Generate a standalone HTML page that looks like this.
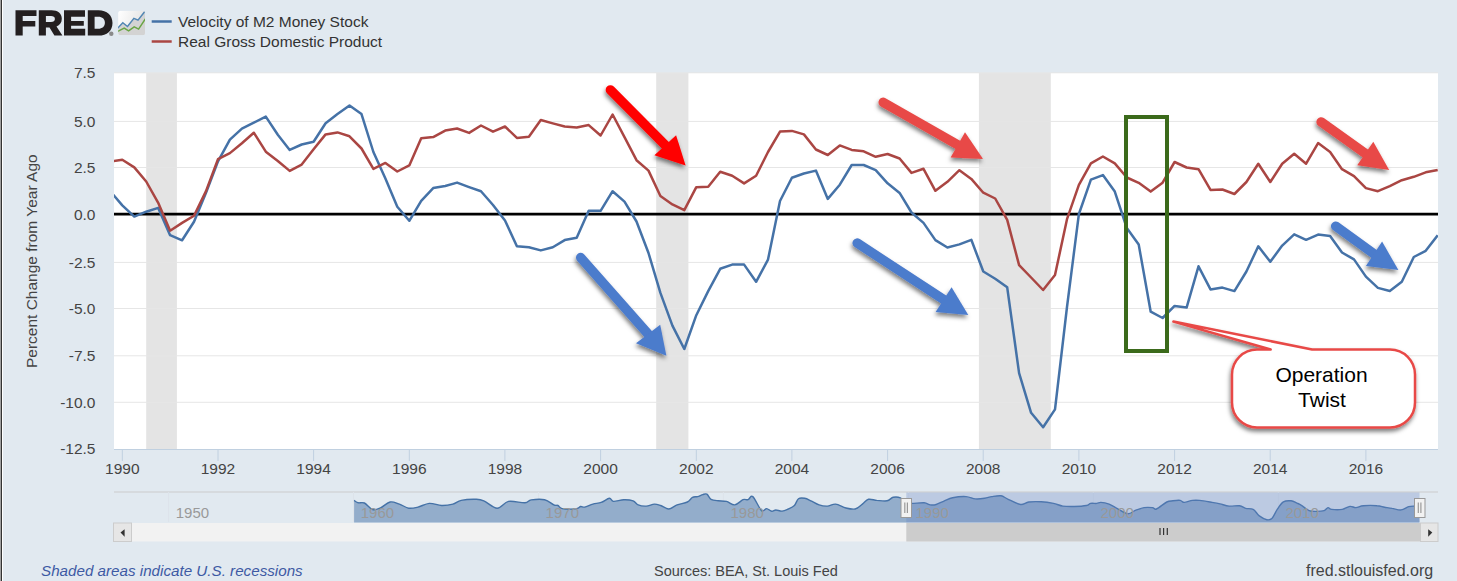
<!DOCTYPE html>
<html><head><meta charset="utf-8"><style>
html,body{margin:0;padding:0;background:#e1e9f0;}
body{width:1457px;height:581px;overflow:hidden;position:relative;}
svg{position:absolute;left:0;top:0;}
text{font-family:"Liberation Sans",sans-serif;}
</style></head><body>
<svg width="1457" height="581" viewBox="0 0 1457 581">
<defs>
<filter id="sh" x="-20%" y="-20%" width="150%" height="150%"><feDropShadow dx="-0.8" dy="3" stdDeviation="2" flood-color="#000" flood-opacity="0.5"/></filter>
<clipPath id="plot"><rect x="114" y="73" width="1324" height="376"/></clipPath>
<linearGradient id="ig" x1="0" y1="0" x2="1" y2="0.3"><stop offset="0" stop-color="#ffffff"/><stop offset="1" stop-color="#e4e4e4"/></linearGradient>
</defs>
<rect x="0" y="0" width="1457" height="581" fill="#e1e9f0"/>
<rect x="0" y="0" width="1" height="581" fill="#a0a0a0"/>
<rect x="1" y="0" width="1" height="581" fill="#333"/>
<rect x="2" y="0" width="1" height="581" fill="#fff"/>
<!-- logo -->
<g fill="#231f20">
<path d="M15.5 10.3H36.5V16.1H22.7V21H35.3V26.4H22.7V35.5H15.5Z"/>
<path d="M38.8 10.3H51.5C58 10.3 61.8 13.4 61.8 18.8C61.8 22.6 59.8 25.3 56.5 26.5L62.4 35.5H54.4L49.5 27.4H45.9V35.5H38.8ZM45.9 16.1V22.0H51C53.4 22.0 54.9 21 54.9 19.0C54.9 17 53.4 16.1 51 16.1Z"/>
<path d="M64 10.3H85V16.7H71.1V21H83.8V25.7H71.1V28.8H85.2V35.6H64Z"/>
<path d="M87.8 10.3H98.5C107 10.3 112.5 15.3 112.5 22.9C112.5 30.6 107 35.6 98.5 35.6H87.8ZM94.6 16.7V28.8H98.3C102.3 28.8 104.9 26.6 104.9 22.8C104.9 18.9 102.3 16.7 98.3 16.7Z"/>
</g>
<circle cx="111.3" cy="33.7" r="2.2" fill="#8a8a8a"/>
<clipPath id="ic"><rect x="118.1" y="10.7" width="26.9" height="24.6" rx="2.5"/></clipPath>
<g clip-path="url(#ic)">
<rect x="118.1" y="10.7" width="26.9" height="24.6" fill="url(#ig)"/>
<polygon points="118.1,27.7 122.8,22.7 127.5,26.5 133.9,18.3 138,20.1 145,11.2 145,35.3 118.1,35.3" fill="#d3d3d3"/>
<polyline points="117.5,28.3 122.8,22.7 127.5,26.5 133.9,18.3 138,20.1 145.2,11" fill="none" stroke="#5186b3" stroke-width="1.5"/>
<polyline points="117.5,31.5 124.2,28.2 128.6,30.9 134.2,26.8 138.6,29.1 145.3,18.8" fill="none" stroke="#6aa545" stroke-width="1.5"/>
</g>
<!-- legend -->
<line x1="151.7" y1="21.5" x2="171.7" y2="21.5" stroke="#4572a7" stroke-width="2.5"/>
<line x1="151.7" y1="41.5" x2="171.7" y2="41.5" stroke="#aa4643" stroke-width="2.5"/>
<g font-size="15.5" fill="#333">
<text x="178" y="27.3">Velocity of M2 Money Stock</text>
<text x="178" y="47">Real Gross Domestic Product</text>
</g>
<!-- plot -->
<rect x="114" y="73" width="1324" height="376" fill="#fff"/>
<rect x="146.2" y="73" width="30.7" height="376" fill="#e4e4e4"/>
<rect x="656.2" y="73" width="32.2" height="376" fill="#e4e4e4"/>
<rect x="978.9" y="73" width="71.9" height="376" fill="#e4e4e4"/>
<line x1="114" y1="72.8" x2="1438" y2="72.8" stroke="#e6e6e6" stroke-width="1"/><line x1="114" y1="121.4" x2="1438" y2="121.4" stroke="#e6e6e6" stroke-width="1"/><line x1="114" y1="167.5" x2="1438" y2="167.5" stroke="#e6e6e6" stroke-width="1"/><line x1="114" y1="262.4" x2="1438" y2="262.4" stroke="#e6e6e6" stroke-width="1"/><line x1="114" y1="308.5" x2="1438" y2="308.5" stroke="#e6e6e6" stroke-width="1"/><line x1="114" y1="355.8" x2="1438" y2="355.8" stroke="#e6e6e6" stroke-width="1"/><line x1="114" y1="402.3" x2="1438" y2="402.3" stroke="#e6e6e6" stroke-width="1"/>
<line x1="114" y1="449.5" x2="1438" y2="449.5" stroke="#c0d0e0" stroke-width="1"/>
<line x1="122.3" y1="449" x2="122.3" y2="461" stroke="#c0d0e0" stroke-width="1"/><line x1="218.0" y1="449" x2="218.0" y2="461" stroke="#c0d0e0" stroke-width="1"/><line x1="313.6" y1="449" x2="313.6" y2="461" stroke="#c0d0e0" stroke-width="1"/><line x1="409.3" y1="449" x2="409.3" y2="461" stroke="#c0d0e0" stroke-width="1"/><line x1="504.9" y1="449" x2="504.9" y2="461" stroke="#c0d0e0" stroke-width="1"/><line x1="600.6" y1="449" x2="600.6" y2="461" stroke="#c0d0e0" stroke-width="1"/><line x1="696.3" y1="449" x2="696.3" y2="461" stroke="#c0d0e0" stroke-width="1"/><line x1="791.9" y1="449" x2="791.9" y2="461" stroke="#c0d0e0" stroke-width="1"/><line x1="887.6" y1="449" x2="887.6" y2="461" stroke="#c0d0e0" stroke-width="1"/><line x1="983.2" y1="449" x2="983.2" y2="461" stroke="#c0d0e0" stroke-width="1"/><line x1="1078.9" y1="449" x2="1078.9" y2="461" stroke="#c0d0e0" stroke-width="1"/><line x1="1174.6" y1="449" x2="1174.6" y2="461" stroke="#c0d0e0" stroke-width="1"/><line x1="1270.2" y1="449" x2="1270.2" y2="461" stroke="#c0d0e0" stroke-width="1"/><line x1="1365.9" y1="449" x2="1365.9" y2="461" stroke="#c0d0e0" stroke-width="1"/>
<g clip-path="url(#plot)">
<line x1="114" y1="214.2" x2="1438" y2="214.2" stroke="#000" stroke-width="2.7"/>
<polyline points="110.3,191.2 122.3,205.4 134.3,216.6 146.2,211.7 158.2,207.9 170.1,235.2 182.1,240.3 194.0,221.8 206.0,192.7 218.0,161.4 229.9,139.7 241.9,128.6 253.8,122.7 265.8,116.6 277.8,134.8 289.7,149.9 301.7,144.5 313.6,141.7 325.6,123.3 337.5,114.1 349.5,105.5 361.5,114.1 373.4,152.0 385.4,178.4 397.3,206.7 409.3,220.8 421.2,200.8 433.2,188.1 445.2,186.0 457.1,182.6 469.1,187.1 481.0,191.3 493.0,205.0 505.0,220.5 516.9,246.3 528.9,247.3 540.8,250.4 552.8,247.3 564.7,240.1 576.7,237.7 588.7,210.8 600.6,210.8 612.6,191.2 624.5,201.6 636.5,221.5 648.5,253.0 660.4,292.9 672.4,325.6 684.3,349.0 696.3,315.2 708.2,291.1 720.2,268.8 732.2,264.6 744.1,264.6 756.1,281.8 768.0,259.6 780.0,201.0 791.9,177.8 803.9,173.5 815.9,170.6 827.8,198.9 839.8,184.7 851.7,165.0 863.7,165.0 875.7,170.2 887.6,183.3 899.6,192.9 911.5,212.5 923.5,222.9 935.4,240.1 947.4,247.5 959.4,244.4 971.3,239.8 983.3,271.5 995.2,278.7 1007.2,287.3 1019.1,373.1 1031.1,412.8 1043.1,427.3 1055.0,409.4 1067.0,307.0 1078.9,214.0 1090.9,179.6 1102.9,175.1 1114.8,191.6 1126.8,228.0 1138.7,244.5 1150.7,311.7 1162.6,318.0 1174.6,305.9 1186.6,307.6 1198.5,266.3 1210.5,289.4 1222.4,287.6 1234.4,291.1 1246.4,271.5 1258.3,246.3 1270.3,261.8 1282.2,245.6 1294.2,234.3 1306.1,239.8 1318.1,234.6 1330.1,236.0 1342.0,252.5 1354.0,259.4 1365.9,276.6 1377.9,287.9 1389.8,291.0 1401.8,281.7 1413.8,257.0 1425.7,250.8 1437.7,235.3" fill="none" stroke="#4572a7" stroke-width="2.5" stroke-linejoin="round"/>
<polyline points="110.3,161.4 122.3,159.8 134.3,167.4 146.2,181.5 158.2,202.8 170.1,230.7 182.1,222.9 194.0,215.7 206.0,191.1 218.0,159.1 229.9,153.1 241.9,143.2 253.8,132.7 265.8,151.7 277.8,161.0 289.7,170.9 301.7,164.6 313.6,149.3 325.6,134.4 337.5,132.4 349.5,136.3 361.5,148.5 373.4,168.9 385.4,162.9 397.3,171.5 409.3,165.4 421.2,138.2 433.2,137.1 445.2,130.6 457.1,128.5 469.1,132.9 481.0,125.5 493.0,131.7 505.0,126.5 516.9,137.9 528.9,136.8 540.8,120.0 552.8,123.4 564.7,126.5 576.7,127.5 588.7,125.1 600.6,135.5 612.6,114.5 624.5,137.2 636.5,160.2 648.5,170.6 660.4,196.0 672.4,204.4 684.3,210.2 696.3,187.2 708.2,186.8 720.2,171.7 732.2,175.8 744.1,183.4 756.1,175.8 768.0,152.0 780.0,131.6 791.9,130.9 803.9,134.4 815.9,149.5 827.8,155.0 839.8,145.4 851.7,149.9 863.7,151.3 875.7,156.8 887.6,154.0 899.6,158.5 911.5,172.9 923.5,168.8 935.4,190.8 947.4,181.8 959.4,170.2 971.3,178.9 983.3,192.7 995.2,198.5 1007.2,219.9 1019.1,265.1 1031.1,277.5 1043.1,290.0 1055.0,275.0 1067.0,219.2 1078.9,184.8 1090.9,163.4 1102.9,156.5 1114.8,163.4 1126.8,177.5 1138.7,182.8 1150.7,191.6 1162.6,182.7 1174.6,162.0 1186.6,167.5 1198.5,169.2 1210.5,189.9 1222.4,189.5 1234.4,194.0 1246.4,182.0 1258.3,163.7 1270.3,182.0 1282.2,163.7 1294.2,153.7 1306.1,163.7 1318.1,143.1 1330.1,152.0 1342.0,169.2 1354.0,176.1 1365.9,188.1 1377.9,191.2 1389.8,186.1 1401.8,180.2 1413.8,176.8 1425.7,172.3 1437.7,169.9" fill="none" stroke="#aa4643" stroke-width="2.5" stroke-linejoin="round"/>
</g>
<g font-size="15.5" fill="#444"><text x="95.5" y="78.3" text-anchor="end">7.5</text><text x="95.5" y="126.7" text-anchor="end">5.0</text><text x="95.5" y="172.8" text-anchor="end">2.5</text><text x="95.5" y="219.8" text-anchor="end">0.0</text><text x="95.5" y="267.7" text-anchor="end">-2.5</text><text x="95.5" y="313.8" text-anchor="end">-5.0</text><text x="95.5" y="361.1" text-anchor="end">-7.5</text><text x="95.5" y="407.6" text-anchor="end">-10.0</text><text x="95.5" y="454.3" text-anchor="end">-12.5</text></g>
<g font-size="15.5" fill="#444"><text x="122.3" y="473.5" text-anchor="middle">1990</text><text x="218.0" y="473.5" text-anchor="middle">1992</text><text x="313.6" y="473.5" text-anchor="middle">1994</text><text x="409.3" y="473.5" text-anchor="middle">1996</text><text x="504.9" y="473.5" text-anchor="middle">1998</text><text x="600.6" y="473.5" text-anchor="middle">2000</text><text x="696.3" y="473.5" text-anchor="middle">2002</text><text x="791.9" y="473.5" text-anchor="middle">2004</text><text x="887.6" y="473.5" text-anchor="middle">2006</text><text x="983.2" y="473.5" text-anchor="middle">2008</text><text x="1078.9" y="473.5" text-anchor="middle">2010</text><text x="1174.6" y="473.5" text-anchor="middle">2012</text><text x="1270.2" y="473.5" text-anchor="middle">2014</text><text x="1365.9" y="473.5" text-anchor="middle">2016</text></g>
<text transform="translate(37,261.2) rotate(-90)" text-anchor="middle" font-size="15.5" fill="#444">Percent Change from Year Ago</text>
<!-- annotations -->
<g filter="url(#sh)"><line x1="610.4" y1="89.9" x2="665.2" y2="145.2" stroke="#ff0000" stroke-width="9.5" stroke-linecap="round"/><polygon points="654.4,155.2 685.6,165.6 676.1,135.3" fill="#ff0000"/></g><g filter="url(#sh)"><line x1="883.2" y1="102.3" x2="957.8" y2="144.8" stroke="#e84a47" stroke-width="9.5" stroke-linecap="round"/><polygon points="950.6,157.5 983.1,159 965,132.2" fill="#e84a47"/></g><g filter="url(#sh)"><line x1="1321.1" y1="121.9" x2="1365.2" y2="153.4" stroke="#e84a47" stroke-width="9.5" stroke-linecap="round"/><polygon points="1357.2,165.2 1389.2,170.1 1373.3,141.7" fill="#e84a47"/></g><g filter="url(#sh)"><line x1="580.7" y1="257.6" x2="648.1" y2="334.0" stroke="#4c7bcc" stroke-width="9.5" stroke-linecap="round"/><polygon points="636,343.3 666.4,355.7 660.2,324.7" fill="#4c7bcc"/></g><g filter="url(#sh)"><line x1="857.2" y1="243.1" x2="943.6" y2="299.6" stroke="#4c7bcc" stroke-width="9.5" stroke-linecap="round"/><polygon points="935.6,312 968.3,314.9 951.6,287.3" fill="#4c7bcc"/></g><g filter="url(#sh)"><line x1="1335.7" y1="226.2" x2="1374.0" y2="253.8" stroke="#4c7bcc" stroke-width="9.5" stroke-linecap="round"/><polygon points="1365.9,265.9 1398.4,270.1 1382.1,241.6" fill="#4c7bcc"/></g>
<rect x="1126" y="117" width="41" height="234" fill="none" stroke="#3b6a1b" stroke-width="4"/>
<g filter="url(#sh)">
<path d="M1257 349.5H1270.7L1173.4 321.6L1312.1 349.5H1390A25 25 0 0 1 1415 374.5V402.5A25 25 0 0 1 1390 427.5H1257A25 25 0 0 1 1232 402.5V374.5A25 25 0 0 1 1257 349.5Z" fill="#fff" stroke="#e84a47" stroke-width="2.5" stroke-linejoin="round"/>
</g>
<g font-size="21" fill="#000" text-anchor="middle">
<text x="1321.5" y="382">Operation</text>
<text x="1322" y="406.6">Twist</text>
</g>
<!-- navigator -->
<line x1="114" y1="492" x2="1438" y2="492" stroke="#cccccc" stroke-width="1.2"/>
<line x1="168.6" y1="492" x2="168.6" y2="522" stroke="#dde3ea" stroke-width="1"/><line x1="353.5" y1="492" x2="353.5" y2="522" stroke="#dde3ea" stroke-width="1"/><line x1="538.5" y1="492" x2="538.5" y2="522" stroke="#dde3ea" stroke-width="1"/><line x1="723.4" y1="492" x2="723.4" y2="522" stroke="#dde3ea" stroke-width="1"/><line x1="908.4" y1="492" x2="908.4" y2="522" stroke="#dde3ea" stroke-width="1"/><line x1="1093.3" y1="492" x2="1093.3" y2="522" stroke="#dde3ea" stroke-width="1"/><line x1="1278.3" y1="492" x2="1278.3" y2="522" stroke="#dde3ea" stroke-width="1"/>
<path d="M354.1,500.4 C354.8,500.8 356.5,502.4 358.2,502.8 C359.9,503.2 362.0,501.9 364.4,503.0 C366.8,504.1 369.9,508.8 372.6,509.6 C375.4,510.4 378.0,508.9 380.9,507.6 C383.8,506.3 387.0,502.6 390.1,502.0 C393.2,501.4 396.3,503.1 399.4,504.1 C402.5,505.1 405.6,507.7 408.7,508.2 C411.8,508.7 414.6,507.9 418.0,507.1 C421.4,506.3 425.4,503.7 429.3,503.4 C433.2,503.1 437.7,505.4 441.6,505.5 C445.5,505.6 449.6,505.0 452.9,504.1 C456.2,503.2 457.4,501.2 461.2,500.4 C465.0,499.6 471.8,499.2 475.6,499.3 C479.4,499.4 480.2,499.3 483.8,500.8 C487.4,502.3 493.1,508.1 497.2,508.2 C501.3,508.3 503.9,502.3 508.5,501.4 C513.1,500.5 521.2,503.1 525.0,502.8 C528.8,502.6 527.9,500.4 531.2,499.9 C534.5,499.4 540.8,498.9 544.6,499.7 C548.4,500.5 551.6,503.9 553.8,504.9 C556.0,505.9 556.6,504.9 558.0,505.5 C559.4,506.1 559.0,508.1 562.1,508.6 C565.2,509.1 573.4,509.0 576.5,508.6 C579.6,508.2 579.2,506.8 580.6,506.5 C582.0,506.2 582.7,507.5 584.7,507.1 C586.8,506.7 590.1,504.9 592.9,504.1 C595.6,503.3 598.5,503.4 601.2,502.4 C604.0,501.4 607.4,498.5 609.4,498.3 C611.4,498.1 611.1,501.2 613.5,501.4 C615.9,501.6 620.5,499.8 623.8,499.7 C627.1,499.6 630.7,499.9 633.1,500.8 C635.5,501.7 636.0,504.0 638.2,504.9 C640.4,505.8 643.5,506.2 646.2,506.1 C648.9,506.0 652.0,504.2 654.4,504.1 C656.8,504.0 658.2,504.7 660.6,505.5 C663.0,506.3 666.0,509.1 668.8,509.0 C671.5,508.9 674.0,506.1 677.1,504.9 C680.2,503.7 684.8,503.3 687.4,502.0 C690.0,500.7 690.8,498.2 692.5,497.3 C694.2,496.4 695.9,497.1 697.6,496.6 C699.3,496.2 701.2,495.0 702.8,494.6 C704.3,494.2 705.5,493.4 706.9,494.2 C708.3,495.0 709.1,498.2 711.0,499.3 C712.9,500.4 715.6,500.5 718.2,500.8 C720.8,501.1 723.8,500.7 726.5,501.4 C729.2,502.1 732.0,505.2 734.7,504.9 C737.5,504.6 740.8,500.6 743.0,499.7 C745.2,498.8 746.5,500.2 748.1,499.7 C749.7,499.2 750.6,494.8 752.8,496.6 C755.0,498.4 759.2,508.6 761.5,510.6 C763.8,512.6 764.9,508.5 766.6,508.6 C768.3,508.7 770.2,511.1 771.8,511.3 C773.3,511.5 774.2,510.0 775.9,510.0 C777.6,510.0 780.0,511.3 782.1,511.1 C784.2,510.9 786.2,509.9 788.2,509.0 C790.2,508.1 792.7,507.2 794.4,505.5 C796.1,503.8 796.8,499.9 798.5,498.7 C800.2,497.5 802.6,497.9 804.7,498.3 C806.8,498.7 808.5,499.7 810.9,500.8 C813.3,501.9 816.4,504.0 819.1,504.9 C821.9,505.8 824.6,506.2 827.4,506.1 C830.1,506.0 832.5,503.8 835.6,504.1 C838.7,504.4 842.6,507.2 845.9,508.0 C849.2,508.8 852.5,509.6 855.2,509.0 C858.0,508.4 860.2,505.7 862.4,504.1 C864.6,502.5 866.1,499.9 868.5,499.3 C870.9,498.7 873.7,500.1 876.8,500.4 C879.9,500.6 884.4,501.3 887.1,500.8 C889.8,500.3 891.0,497.8 893.2,497.3 C895.4,496.8 898.3,497.0 900.4,497.9 C902.5,498.8 903.7,501.9 905.6,502.8 C907.5,503.7 908.7,503.4 911.8,503.4 C914.9,503.4 921.0,502.6 924.1,502.8 C927.2,503.1 928.3,504.6 930.3,504.9 C932.3,505.2 933.9,505.2 936.2,504.5 C938.6,503.8 941.7,501.9 944.4,500.8 C947.1,499.7 949.0,498.4 952.6,497.7 C956.2,497.0 962.2,496.4 966.0,496.6 C969.8,496.8 972.2,498.6 975.3,498.9 C978.4,499.2 981.9,498.7 984.6,498.3 C987.4,497.9 989.1,497.0 991.8,496.6 C994.5,496.2 998.3,495.4 1001.0,495.8 C1003.7,496.2 1004.9,497.9 1008.2,499.3 C1011.5,500.8 1017.2,504.1 1020.6,504.5 C1024.0,504.9 1025.4,502.4 1028.8,502.0 C1032.2,501.6 1037.1,501.6 1041.2,501.8 C1045.3,502.0 1049.9,502.7 1053.5,503.4 C1057.1,504.1 1059.4,505.6 1062.8,506.1 C1066.2,506.6 1070.1,506.6 1074.1,506.5 C1078.0,506.4 1083.8,506.0 1086.5,505.5 C1089.2,505.0 1088.9,503.8 1090.6,503.4 C1092.3,503.0 1095.1,503.6 1096.8,503.4 C1098.5,503.2 1098.9,502.3 1100.9,502.4 C1103.0,502.5 1106.3,503.1 1109.1,504.1 C1111.8,505.1 1114.3,507.0 1117.4,508.6 C1120.5,510.2 1124.6,513.4 1127.7,513.7 C1130.8,514.0 1133.2,511.2 1135.9,510.2 C1138.6,509.2 1141.3,508.0 1144.1,507.6 C1146.8,507.2 1150.3,507.4 1152.4,507.6 C1154.5,507.8 1154.1,509.9 1156.5,509.0 C1158.9,508.1 1164.0,503.4 1166.8,502.0 C1169.5,500.6 1170.8,501.1 1173.0,500.8 C1175.2,500.5 1178.3,500.1 1180.2,500.4 C1182.1,500.7 1182.2,502.4 1184.3,502.4 C1186.3,502.4 1189.9,500.7 1192.5,500.4 C1195.1,500.1 1196.4,500.1 1199.7,500.4 C1203.0,500.7 1208.7,501.8 1212.1,502.4 C1215.5,503.0 1217.2,503.3 1220.0,503.9 C1222.8,504.5 1225.8,505.8 1229.1,506.1 C1232.4,506.4 1236.8,505.4 1239.6,505.8 C1242.4,506.2 1243.4,507.8 1245.7,508.4 C1248.0,509.0 1250.9,508.1 1253.2,509.4 C1255.5,510.6 1257.0,514.2 1259.3,515.9 C1261.6,517.6 1264.7,519.3 1266.8,519.7 C1268.9,520.1 1270.3,520.0 1272.1,518.2 C1273.9,516.4 1275.5,511.8 1277.4,509.1 C1279.3,506.4 1281.1,503.3 1283.4,501.9 C1285.7,500.5 1288.7,500.6 1291.0,500.8 C1293.3,501.0 1295.2,502.3 1297.0,503.1 C1298.8,503.9 1299.5,504.1 1301.5,505.4 C1303.5,506.6 1306.6,509.6 1309.1,510.6 C1311.6,511.6 1314.1,511.4 1316.6,511.4 C1319.1,511.4 1322.3,511.2 1324.2,510.6 C1326.1,510.0 1326.8,507.8 1328.0,507.6 C1329.2,507.4 1329.3,509.1 1331.7,509.4 C1334.1,509.7 1339.3,509.9 1342.3,509.4 C1345.3,508.9 1347.6,506.7 1349.9,506.4 C1352.2,506.1 1353.7,507.7 1355.9,507.6 C1358.2,507.5 1359.9,506.0 1363.4,505.7 C1366.9,505.4 1373.5,505.4 1377.0,505.7 C1380.5,505.9 1382.1,506.8 1384.6,507.2 C1387.1,507.6 1389.3,507.9 1392.1,508.4 C1394.9,508.8 1398.4,510.2 1401.2,509.9 C1404.0,509.6 1406.4,507.2 1408.7,506.6 C1411.0,506.0 1413.0,506.2 1414.8,506.1 C1416.6,506.0 1418.7,506.1 1419.5,506.1 L1419.5,522.5 L354.1,522.5 Z" fill="#93adcb"/>
<path d="M354.1,500.4 C354.8,500.8 356.5,502.4 358.2,502.8 C359.9,503.2 362.0,501.9 364.4,503.0 C366.8,504.1 369.9,508.8 372.6,509.6 C375.4,510.4 378.0,508.9 380.9,507.6 C383.8,506.3 387.0,502.6 390.1,502.0 C393.2,501.4 396.3,503.1 399.4,504.1 C402.5,505.1 405.6,507.7 408.7,508.2 C411.8,508.7 414.6,507.9 418.0,507.1 C421.4,506.3 425.4,503.7 429.3,503.4 C433.2,503.1 437.7,505.4 441.6,505.5 C445.5,505.6 449.6,505.0 452.9,504.1 C456.2,503.2 457.4,501.2 461.2,500.4 C465.0,499.6 471.8,499.2 475.6,499.3 C479.4,499.4 480.2,499.3 483.8,500.8 C487.4,502.3 493.1,508.1 497.2,508.2 C501.3,508.3 503.9,502.3 508.5,501.4 C513.1,500.5 521.2,503.1 525.0,502.8 C528.8,502.6 527.9,500.4 531.2,499.9 C534.5,499.4 540.8,498.9 544.6,499.7 C548.4,500.5 551.6,503.9 553.8,504.9 C556.0,505.9 556.6,504.9 558.0,505.5 C559.4,506.1 559.0,508.1 562.1,508.6 C565.2,509.1 573.4,509.0 576.5,508.6 C579.6,508.2 579.2,506.8 580.6,506.5 C582.0,506.2 582.7,507.5 584.7,507.1 C586.8,506.7 590.1,504.9 592.9,504.1 C595.6,503.3 598.5,503.4 601.2,502.4 C604.0,501.4 607.4,498.5 609.4,498.3 C611.4,498.1 611.1,501.2 613.5,501.4 C615.9,501.6 620.5,499.8 623.8,499.7 C627.1,499.6 630.7,499.9 633.1,500.8 C635.5,501.7 636.0,504.0 638.2,504.9 C640.4,505.8 643.5,506.2 646.2,506.1 C648.9,506.0 652.0,504.2 654.4,504.1 C656.8,504.0 658.2,504.7 660.6,505.5 C663.0,506.3 666.0,509.1 668.8,509.0 C671.5,508.9 674.0,506.1 677.1,504.9 C680.2,503.7 684.8,503.3 687.4,502.0 C690.0,500.7 690.8,498.2 692.5,497.3 C694.2,496.4 695.9,497.1 697.6,496.6 C699.3,496.2 701.2,495.0 702.8,494.6 C704.3,494.2 705.5,493.4 706.9,494.2 C708.3,495.0 709.1,498.2 711.0,499.3 C712.9,500.4 715.6,500.5 718.2,500.8 C720.8,501.1 723.8,500.7 726.5,501.4 C729.2,502.1 732.0,505.2 734.7,504.9 C737.5,504.6 740.8,500.6 743.0,499.7 C745.2,498.8 746.5,500.2 748.1,499.7 C749.7,499.2 750.6,494.8 752.8,496.6 C755.0,498.4 759.2,508.6 761.5,510.6 C763.8,512.6 764.9,508.5 766.6,508.6 C768.3,508.7 770.2,511.1 771.8,511.3 C773.3,511.5 774.2,510.0 775.9,510.0 C777.6,510.0 780.0,511.3 782.1,511.1 C784.2,510.9 786.2,509.9 788.2,509.0 C790.2,508.1 792.7,507.2 794.4,505.5 C796.1,503.8 796.8,499.9 798.5,498.7 C800.2,497.5 802.6,497.9 804.7,498.3 C806.8,498.7 808.5,499.7 810.9,500.8 C813.3,501.9 816.4,504.0 819.1,504.9 C821.9,505.8 824.6,506.2 827.4,506.1 C830.1,506.0 832.5,503.8 835.6,504.1 C838.7,504.4 842.6,507.2 845.9,508.0 C849.2,508.8 852.5,509.6 855.2,509.0 C858.0,508.4 860.2,505.7 862.4,504.1 C864.6,502.5 866.1,499.9 868.5,499.3 C870.9,498.7 873.7,500.1 876.8,500.4 C879.9,500.6 884.4,501.3 887.1,500.8 C889.8,500.3 891.0,497.8 893.2,497.3 C895.4,496.8 898.3,497.0 900.4,497.9 C902.5,498.8 903.7,501.9 905.6,502.8 C907.5,503.7 908.7,503.4 911.8,503.4 C914.9,503.4 921.0,502.6 924.1,502.8 C927.2,503.1 928.3,504.6 930.3,504.9 C932.3,505.2 933.9,505.2 936.2,504.5 C938.6,503.8 941.7,501.9 944.4,500.8 C947.1,499.7 949.0,498.4 952.6,497.7 C956.2,497.0 962.2,496.4 966.0,496.6 C969.8,496.8 972.2,498.6 975.3,498.9 C978.4,499.2 981.9,498.7 984.6,498.3 C987.4,497.9 989.1,497.0 991.8,496.6 C994.5,496.2 998.3,495.4 1001.0,495.8 C1003.7,496.2 1004.9,497.9 1008.2,499.3 C1011.5,500.8 1017.2,504.1 1020.6,504.5 C1024.0,504.9 1025.4,502.4 1028.8,502.0 C1032.2,501.6 1037.1,501.6 1041.2,501.8 C1045.3,502.0 1049.9,502.7 1053.5,503.4 C1057.1,504.1 1059.4,505.6 1062.8,506.1 C1066.2,506.6 1070.1,506.6 1074.1,506.5 C1078.0,506.4 1083.8,506.0 1086.5,505.5 C1089.2,505.0 1088.9,503.8 1090.6,503.4 C1092.3,503.0 1095.1,503.6 1096.8,503.4 C1098.5,503.2 1098.9,502.3 1100.9,502.4 C1103.0,502.5 1106.3,503.1 1109.1,504.1 C1111.8,505.1 1114.3,507.0 1117.4,508.6 C1120.5,510.2 1124.6,513.4 1127.7,513.7 C1130.8,514.0 1133.2,511.2 1135.9,510.2 C1138.6,509.2 1141.3,508.0 1144.1,507.6 C1146.8,507.2 1150.3,507.4 1152.4,507.6 C1154.5,507.8 1154.1,509.9 1156.5,509.0 C1158.9,508.1 1164.0,503.4 1166.8,502.0 C1169.5,500.6 1170.8,501.1 1173.0,500.8 C1175.2,500.5 1178.3,500.1 1180.2,500.4 C1182.1,500.7 1182.2,502.4 1184.3,502.4 C1186.3,502.4 1189.9,500.7 1192.5,500.4 C1195.1,500.1 1196.4,500.1 1199.7,500.4 C1203.0,500.7 1208.7,501.8 1212.1,502.4 C1215.5,503.0 1217.2,503.3 1220.0,503.9 C1222.8,504.5 1225.8,505.8 1229.1,506.1 C1232.4,506.4 1236.8,505.4 1239.6,505.8 C1242.4,506.2 1243.4,507.8 1245.7,508.4 C1248.0,509.0 1250.9,508.1 1253.2,509.4 C1255.5,510.6 1257.0,514.2 1259.3,515.9 C1261.6,517.6 1264.7,519.3 1266.8,519.7 C1268.9,520.1 1270.3,520.0 1272.1,518.2 C1273.9,516.4 1275.5,511.8 1277.4,509.1 C1279.3,506.4 1281.1,503.3 1283.4,501.9 C1285.7,500.5 1288.7,500.6 1291.0,500.8 C1293.3,501.0 1295.2,502.3 1297.0,503.1 C1298.8,503.9 1299.5,504.1 1301.5,505.4 C1303.5,506.6 1306.6,509.6 1309.1,510.6 C1311.6,511.6 1314.1,511.4 1316.6,511.4 C1319.1,511.4 1322.3,511.2 1324.2,510.6 C1326.1,510.0 1326.8,507.8 1328.0,507.6 C1329.2,507.4 1329.3,509.1 1331.7,509.4 C1334.1,509.7 1339.3,509.9 1342.3,509.4 C1345.3,508.9 1347.6,506.7 1349.9,506.4 C1352.2,506.1 1353.7,507.7 1355.9,507.6 C1358.2,507.5 1359.9,506.0 1363.4,505.7 C1366.9,505.4 1373.5,505.4 1377.0,505.7 C1380.5,505.9 1382.1,506.8 1384.6,507.2 C1387.1,507.6 1389.3,507.9 1392.1,508.4 C1394.9,508.8 1398.4,510.2 1401.2,509.9 C1404.0,509.6 1406.4,507.2 1408.7,506.6 C1411.0,506.0 1413.0,506.2 1414.8,506.1 C1416.6,506.0 1418.7,506.1 1419.5,506.1" fill="none" stroke="#4572a7" stroke-width="1.4"/>
<rect x="906.3" y="492.5" width="513.2" height="30" fill="rgba(102,133,194,0.3)"/>
<g font-size="15" fill="#999"><text x="192.4" y="518" text-anchor="middle">1950</text><text x="377.4" y="518" text-anchor="middle">1960</text><text x="562.3" y="518" text-anchor="middle">1970</text><text x="747.2" y="518" text-anchor="middle">1980</text><text x="932.2" y="518" text-anchor="middle">1990</text><text x="1117.2" y="518" text-anchor="middle">2000</text><text x="1302.1" y="518" text-anchor="middle">2010</text></g>
<rect x="901" y="498.5" width="10.5" height="19" fill="#f2f2f2" stroke="#999" stroke-width="1"/>
<line x1="904.8" y1="502.6" x2="904.8" y2="513" stroke="#999" stroke-width="1.2"/>
<line x1="907.4" y1="502.6" x2="907.4" y2="513" stroke="#999" stroke-width="1.2"/>
<rect x="1414.5" y="498.5" width="10.5" height="19" fill="#f2f2f2" stroke="#999" stroke-width="1"/>
<line x1="1418.3" y1="502.6" x2="1418.3" y2="513" stroke="#999" stroke-width="1.2"/>
<line x1="1420.9" y1="502.6" x2="1420.9" y2="513" stroke="#999" stroke-width="1.2"/>
<!-- scrollbar -->
<rect x="114" y="523" width="1324" height="18.5" fill="#f2f2f2"/>
<rect x="906.3" y="523" width="514" height="18.5" fill="#cccccc"/>
<rect x="113.5" y="523" width="18" height="18.5" fill="#e6e6e6" stroke="#cccccc" stroke-width="1"/>
<polygon points="120.5,532.5 124.6,529.2 124.6,536.7" fill="#333"/>
<rect x="1420.5" y="523" width="17.5" height="18.5" fill="#e6e6e6" stroke="#cccccc" stroke-width="1"/>
<polygon points="1432.3,532.5 1428.2,529.2 1428.2,536.7" fill="#333"/>
<g stroke="#333" stroke-width="1.2"><line x1="1160" y1="528" x2="1160" y2="535"/><line x1="1163.6" y1="528" x2="1163.6" y2="535"/><line x1="1167.3" y1="528" x2="1167.3" y2="535"/></g>
<!-- footer -->
<text x="41" y="575.5" font-size="15.2" font-style="italic" fill="#3d5aa4">Shaded areas indicate U.S. recessions</text>
<text x="654" y="575.5" font-size="14.5" fill="#444">Sources: BEA, St. Louis Fed</text>
<text x="1306" y="575.5" font-size="16" fill="#444">fred.stlouisfed.org</text>
</svg>
</body></html>
